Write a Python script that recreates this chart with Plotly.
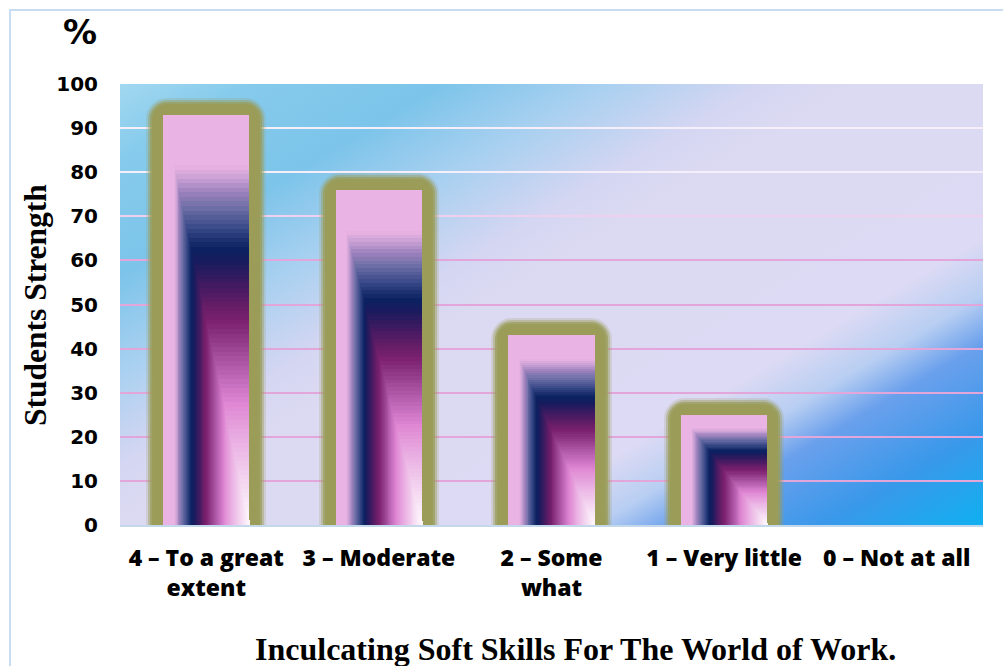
import base64
import plotly.graph_objects as go

# ---------------- data ----------------
categories = ["4 – To a great<br>extent", "3 – Moderate", "2 – Some<br>what", "1 – Very little", "0 – Not at all"]
values = [93, 76, 43, 25, 0]
y_ticks = [0, 10, 20, 30, 40, 50, 60, 70, 80, 90, 100]

title_text = "Inculcating Soft Skills For The World of Work."
y_title = "Students Strength"
unit_label = "%"

# ---------------- styling ----------------
PINK = "#e9b3e3"
OLIVE = (154, 156, 88)
BAR_W = 0.5
N_LEVELS = 90

# rectangular (path) gradient stops: s = 0 at bottom-right corner, 1 at outer edge
grad_stops = [
    (0.00, "#fff8fc"), (0.04, "#fcf0fa"), (0.13, "#f2d0ee"), (0.23, "#e8a8e0"),
    (0.30, "#e088d4"), (0.35, "#c870c0"), (0.425, "#a04a98"), (0.50, "#7c2270"),
    (0.535, "#6a1e68"), (0.60, "#3a1a60"), (0.645, "#1a1c5e"), (0.68, "#0b2262"),
    (0.73, "#3a4a88"), (0.78, "#7070a8"), (0.815, "#9a80bc"), (0.85, "#c8a0d4"),
    (0.88, PINK), (1.00, PINK),
]


def hex2rgb(h):
    h = h.lstrip("#")
    return tuple(int(h[i:i + 2], 16) for i in (0, 2, 4))


def grad_color(s):
    for (a, ca), (b, cb) in zip(grad_stops[:-1], grad_stops[1:]):
        if a <= s <= b:
            t = 0 if b == a else (s - a) / (b - a)
            r1, g1, b1 = hex2rgb(ca)
            r2, g2, b2 = hex2rgb(cb)
            return "rgb(%d,%d,%d)" % (r1 + (r2 - r1) * t, g1 + (g2 - g1) * t, b1 + (b2 - b1) * t)
    return PINK


glow_values = [v if v > 0 else None for v in values]

fig = go.Figure()

# glow (olive halo) behind each bar
for lw, alpha in [(34, 0.2), (30, 0.4), (26, 0.7), (22, 0.9), (18, 1.0)]:
    fig.add_trace(go.Bar(
        x=categories, y=glow_values, width=BAR_W,
        marker=dict(color="rgb(%d,%d,%d)" % OLIVE, cornerradius=4,
                    line=dict(color="rgba(%d,%d,%d,%s)" % (*OLIVE, alpha), width=lw)),
        showlegend=False, hoverinfo="skip",
    ))

# pink body + rectangular gradient anchored at bottom-right of each bar
for k in range(N_LEVELS, 0, -1):
    s = k / N_LEVELS
    fig.add_trace(go.Bar(
        x=categories, y=[v * s if v > 0 else None for v in values],
        width=BAR_W * s, offset=BAR_W / 2 - BAR_W * s,
        marker=dict(color=grad_color(s), line=dict(width=0)),
        showlegend=False, hoverinfo="skip" if k != N_LEVELS else None,
    ))

# overlay axes for coloured gridlines
fig.add_trace(go.Scatter(x=[categories[0]], y=[None], yaxis="y2", showlegend=False, hoverinfo="skip"))
fig.add_trace(go.Scatter(x=[categories[0]], y=[None], yaxis="y3", showlegend=False, hoverinfo="skip"))

# background gradient as SVG image
svg = """<svg xmlns="http://www.w3.org/2000/svg" width="863" height="441" viewBox="0 0 863 441" preserveAspectRatio="none">
<defs><linearGradient id="g" gradientUnits="userSpaceOnUse" x1="0" y1="0" x2="418" y2="704">
<stop offset="0" stop-color="#a2d8f0"/>
<stop offset="0.08" stop-color="#86cbec"/>
<stop offset="0.2" stop-color="#7cc4ea"/>
<stop offset="0.3" stop-color="#a8d0f0"/>
<stop offset="0.4" stop-color="#d4d6f2"/>
<stop offset="0.46" stop-color="#dcdaf2"/>
<stop offset="0.70" stop-color="#dcdaf4"/>
<stop offset="0.76" stop-color="#b8cef2"/>
<stop offset="0.81" stop-color="#6aa0ec"/>
<stop offset="0.9" stop-color="#3a98ea"/>
<stop offset="1" stop-color="#10b0f0"/>
</linearGradient></defs>
<rect x="0" y="0" width="863" height="441" fill="url(#g)"/>
</svg>"""
svg_uri = "data:image/svg+xml;base64," + base64.b64encode(svg.encode()).decode()

PX_L, PX_R, PX_T, PX_B = 120, 983, 84, 525
W_, H_ = 1003, 666
pw, ph = PX_R - PX_L, PX_B - PX_T


def px2paper_x(px):
    return (px - PX_L) / pw


def px2paper_y(py):
    return (PX_B - py) / ph


fig.update_layout(
    width=W_, height=H_,
    margin=dict(l=PX_L, r=W_ - PX_R, t=PX_T, b=H_ - PX_B),
    barmode="overlay",
    bargap=0,
    paper_bgcolor="white",
    plot_bgcolor="rgba(0,0,0,0)",
    showlegend=False,
    images=[dict(source=svg_uri, xref="paper", yref="paper", x=0, y=1, sizex=1, sizey=1,
                 sizing="stretch", xanchor="left", yanchor="top", layer="below")],
    xaxis=dict(
        type="category", categoryorder="array", categoryarray=categories,
        showgrid=False, ticks="", showline=True, linecolor="#c4d8ec", linewidth=2,
        tickfont=dict(family="Open Sans", size=23, color="black", weight=800),
        ticklabelstandoff=11, zeroline=False,
    ),
    yaxis=dict(
        range=[0, 100], tickvals=y_ticks, ticktext=[str(t) for t in y_ticks],
        showgrid=True, gridcolor="#f6eef8", gridwidth=2, zeroline=False, ticks="",
        tickfont=dict(family="DejaVu Sans", size=20, color="black", weight="bold"),
        ticklabelstandoff=21, showline=False,
    ),
    yaxis2=dict(
        overlaying="y", range=[0, 100], tickvals=[t for t in y_ticks if 0 < t <= 60],
        showgrid=True, gridcolor="#e2a6da", gridwidth=2, showticklabels=False,
        zeroline=False, ticks="", showline=False,
    ),
    yaxis3=dict(
        overlaying="y", range=[0, 100], tickvals=[t for t in y_ticks if t == 70],
        showgrid=True, gridcolor="#efd0ee", gridwidth=2, showticklabels=False,
        zeroline=False, ticks="", showline=False,
    ),
    annotations=[
        dict(text=unit_label, xref="paper", yref="paper", x=px2paper_x(80), y=px2paper_y(32),
             showarrow=False, xanchor="center", yanchor="middle",
             font=dict(family="DejaVu Sans", size=34, color="black", weight="bold")),
        dict(text=y_title, xref="paper", yref="paper", x=px2paper_x(35), y=px2paper_y(305),
             showarrow=False, xanchor="center", yanchor="middle", textangle=-90,
             font=dict(family="Liberation Serif", size=31.5, color="black", weight="bold")),
        dict(text=title_text, xref="paper", yref="paper", x=px2paper_x(575), y=px2paper_y(649),
             showarrow=False, xanchor="center", yanchor="middle",
             font=dict(family="Liberation Serif", size=32, color="black", weight="bold")),
    ],
    shapes=[dict(type="rect", xref="paper", yref="paper",
                 x0=px2paper_x(10), x1=px2paper_x(1012), y0=px2paper_y(10), y1=px2paper_y(680),
                 line=dict(color="#c8dcf2", width=2), fillcolor="rgba(0,0,0,0)", layer="above")],
)

fig.write_html("out.html", config={"displayModeBar": False},
               post_script="document.body.style.margin='0px';document.body.style.overflow='hidden';")
